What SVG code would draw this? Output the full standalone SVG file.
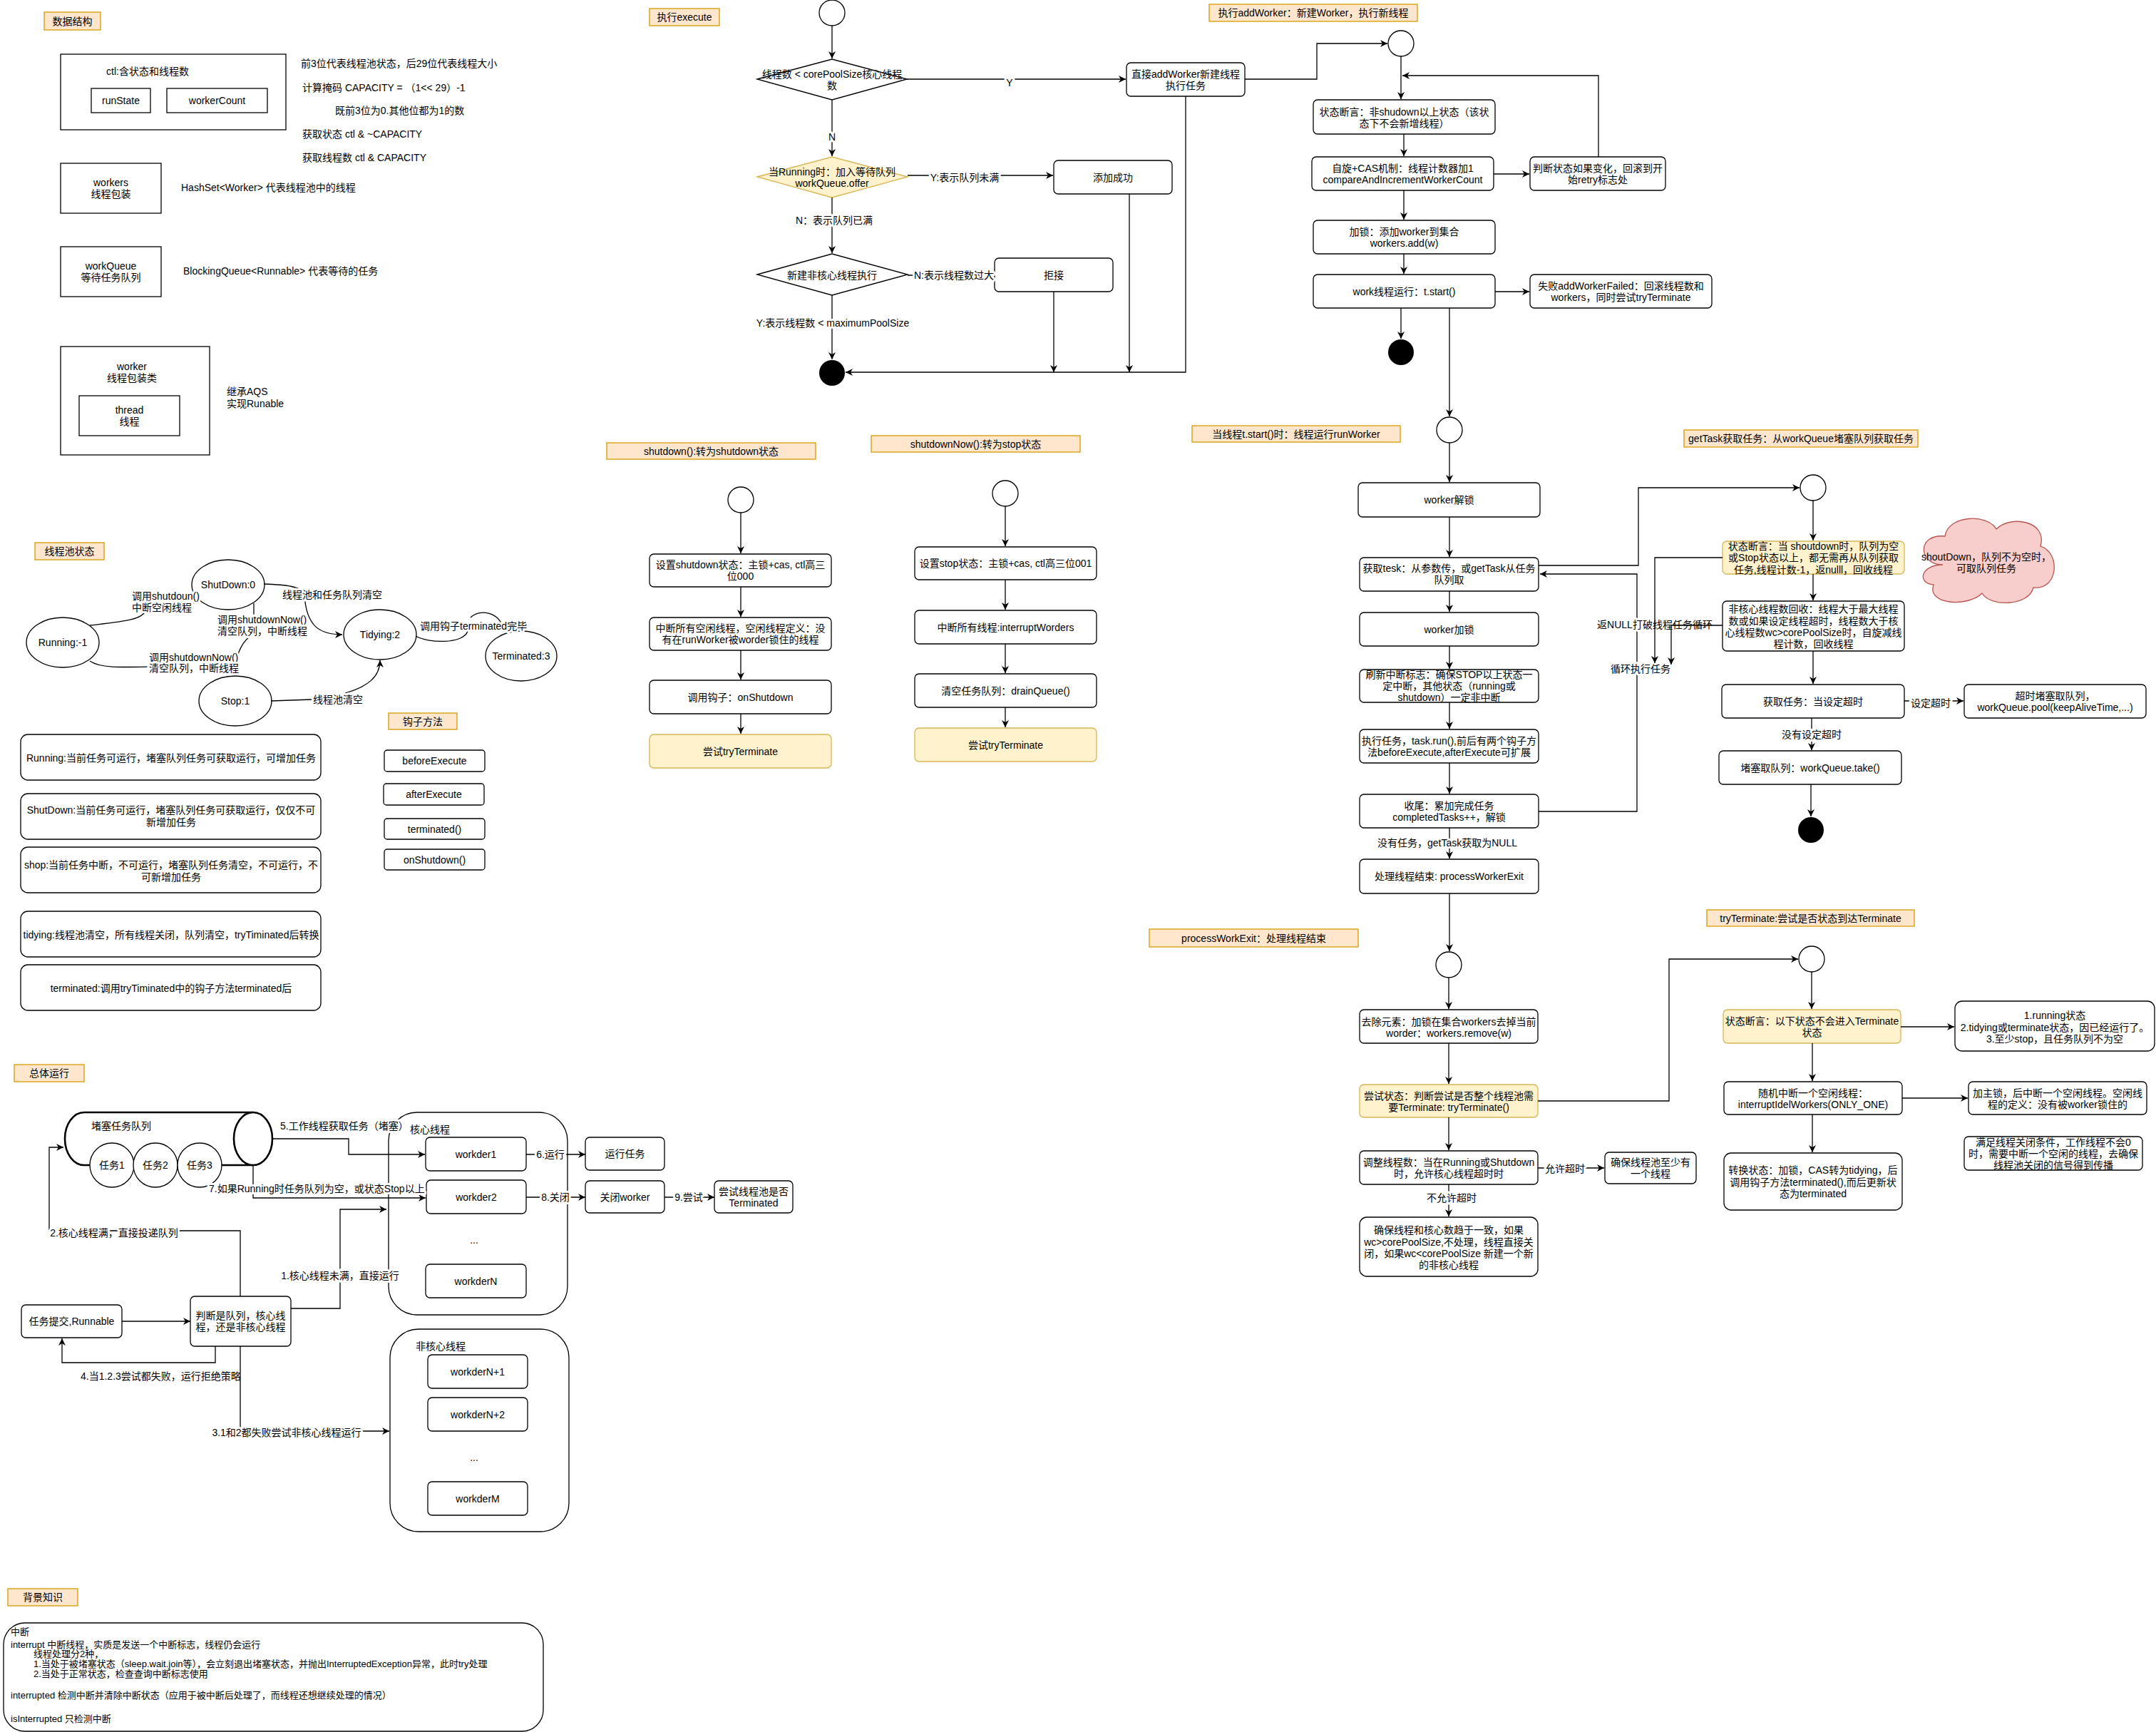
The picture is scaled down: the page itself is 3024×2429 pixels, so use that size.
<svg xmlns="http://www.w3.org/2000/svg" width="3024" height="2429" viewBox="0 0 3024 2429">
<style>
text{font-family:"Liberation Sans","Noto Sans CJK SC",sans-serif;font-size:14px;fill:#000;dominant-baseline:central}
.t{text-anchor:middle}
.s{text-anchor:start}
.b{fill:#fff;stroke:#000;stroke-width:1.3}
.lbl{fill:#ffe6cc;stroke:#d79b00;stroke-width:1.3}
.y{fill:#fff2cc;stroke:#d6b656;stroke-width:1.3}
.e{fill:none;stroke:#000;stroke-width:1.3}
.h{paint-order:stroke;stroke:#fff;stroke-width:6px;stroke-linejoin:round}
.bg text{font-size:13px}
</style>
<defs>
<marker id="a" viewBox="0 0 10 10" refX="10" refY="5" markerWidth="10" markerHeight="10" markerUnits="userSpaceOnUse" orient="auto"><path d="M0,0 L10,5 L0,10 L3,5 z" fill="#000"/></marker>
</defs>
<rect width="3024" height="2429" fill="#fff"/>

<!-- ===== 数据结构 ===== -->
<g id="lbl-data"><rect class="lbl" x="62" y="17" width="79" height="25"/><text class="t" x="101.5" y="29.5">数据结构</text></g>
<g id="ctl"><rect class="b" x="85" y="76" width="316" height="106"/><text class="t" x="207" y="100">ctl:含状态和线程数</text></g>
<g id="runState"><rect class="b" x="128" y="124" width="83" height="34"/><text class="t" x="169.5" y="141">runState</text></g>
<g id="workerCount"><rect class="b" x="234" y="124" width="141" height="34"/><text class="t" x="304.5" y="141">workerCount</text></g>
<g id="ctl-notes">
<text class="s" x="422" y="89">前3位代表线程池状态，后29位代表线程大小</text>
<text class="s" x="424" y="123">计算掩码 CAPACITY = （1&lt;&lt; 29）-1</text>
<text class="s" x="470" y="155">既前3位为0.其他位都为1的数</text>
<text class="s" x="424" y="188">获取状态 ctl &amp;  ~CAPACITY</text>
<text class="s" x="424" y="221">获取线程数 ctl &amp; CAPACITY</text>
</g>
<g id="workers"><rect class="b" x="85" y="229" width="141" height="70"/><text class="t" x="155.5" y="256">workers</text><text class="t" x="155.5" y="272">线程包装</text></g>
<text class="s" x="254" y="263">HashSet&lt;Worker&gt; 代表线程池中的线程</text>
<g id="workQueue"><rect class="b" x="85" y="346" width="141" height="70"/><text class="t" x="155.5" y="373">workQueue</text><text class="t" x="155.5" y="389">等待任务队列</text></g>
<text class="s" x="257" y="380">BlockingQueue&lt;Runnable&gt; 代表等待的任务</text>
<g id="worker"><rect class="b" x="85" y="486" width="209" height="152"/><text class="t" x="185" y="514">worker</text><text class="t" x="185" y="530">线程包装类</text></g>
<g id="thread"><rect class="b" x="111" y="555" width="141" height="56"/><text class="t" x="181.5" y="575">thread</text><text class="t" x="181.5" y="591">线程</text></g>
<text class="s" x="318" y="549">继承AQS</text>
<text class="s" x="318" y="566">实现Runable</text>

<!-- ===== 线程池状态 ===== -->
<g id="lbl-state"><rect class="lbl" x="49" y="761" width="97" height="24"/><text class="t" x="97.5" y="773">线程池状态</text></g>
<g id="st-running"><ellipse class="b" cx="88" cy="901" rx="51" ry="35"/><text class="t" x="88" y="901">Running:-1</text></g>
<g id="st-shutdown"><ellipse class="b" cx="320" cy="820" rx="51" ry="35"/><text class="t" x="320" y="820">ShutDown:0</text></g>
<g id="st-tidying"><ellipse class="b" cx="533" cy="890" rx="51" ry="35"/><text class="t" x="533" y="890">Tidying:2</text></g>
<g id="st-stop"><ellipse class="b" cx="330" cy="983" rx="51" ry="35"/><text class="t" x="330" y="983">Stop:1</text></g>
<g id="st-terminated"><ellipse class="b" cx="731" cy="920" rx="50" ry="35"/><text class="t" x="731" y="920">Terminated:3</text></g>

<g id="st-desc-running"><rect class="b" x="29" y="1030" width="421" height="64" rx="10"/><text class="t" x="240" y="1063">Running:当前任务可运行，堵塞队列任务可获取运行，可增加任务</text></g>
<g id="st-desc-shutdown"><rect class="b" x="29" y="1113" width="421" height="64" rx="10"/><text class="t" x="240" y="1136">ShutDown:当前任务可运行，堵塞队列任务可获取运行，仅仅不可</text><text class="t" x="240" y="1153">新增加任务</text></g>
<g id="st-desc-stop"><rect class="b" x="29" y="1188" width="421" height="64" rx="10"/><text class="t" x="240" y="1213">shop:当前任务中断，不可运行，堵塞队列任务清空，不可运行，不</text><text class="t" x="240" y="1230">可新增加任务</text></g>
<g id="st-desc-tidying"><rect class="b" x="29" y="1278" width="421" height="64" rx="10"/><text class="t" x="240" y="1311">tidying:线程池清空，所有线程关闭，队列清空，tryTiminated后转换</text></g>
<g id="st-desc-terminated"><rect class="b" x="29" y="1353" width="421" height="64" rx="10"/><text class="t" x="240" y="1386">terminated:调用tryTiminated中的钩子方法terminated后</text></g>

<g id="lbl-hook"><rect class="lbl" x="545" y="1000" width="96" height="23"/><text class="t" x="593" y="1011.5">钩子方法</text></g>
<g id="hook-before"><rect class="b" x="539" y="1052" width="141" height="30" rx="4"/><text class="t" x="609.5" y="1067">beforeExecute</text></g>
<g id="hook-after"><rect class="b" x="538" y="1099" width="141" height="30" rx="4"/><text class="t" x="608.5" y="1114">afterExecute</text></g>
<g id="hook-terminated"><rect class="b" x="539" y="1148" width="141" height="29" rx="4"/><text class="t" x="609.5" y="1162.5">terminated()</text></g>
<g id="hook-onshutdown"><rect class="b" x="539" y="1191" width="141" height="29" rx="4"/><text class="t" x="609.5" y="1205.5">onShutdown()</text></g>

<!-- ===== 总体运行 ===== -->
<g id="lbl-overall"><rect class="lbl" x="20" y="1493" width="98" height="24"/><text class="t" x="69" y="1505">总体运行</text></g>
<g id="queue">
<path d="M355,1560 L118,1560 A27,37 0 0 0 118,1634 L355,1634" fill="#fff" stroke="#000" stroke-width="2.6"/>
<ellipse cx="355" cy="1597" rx="27" ry="37" fill="#fff" stroke="#000" stroke-width="2.6"/>
<text class="s" x="128" y="1579">堵塞任务队列</text>
</g>
<g id="task1"><circle class="b" cx="157" cy="1634" r="31"/><text class="t" x="157" y="1634">任务1</text></g>
<g id="task2"><circle class="b" cx="218" cy="1634" r="31"/><text class="t" x="218" y="1634">任务2</text></g>
<g id="task3"><circle class="b" cx="280" cy="1634" r="31"/><text class="t" x="280" y="1634">任务3</text></g>
<g id="core"><rect class="b" x="545" y="1560" width="251" height="284" rx="40"/><text class="s" x="575" y="1584">核心线程</text><text class="t" x="665" y="1739">...</text></g>
<g id="w1"><rect class="b" x="597" y="1595" width="141" height="47" rx="6"/><text class="t" x="667.5" y="1618.5">workder1</text></g>
<g id="w2"><rect class="b" x="598" y="1655" width="140" height="47" rx="6"/><text class="t" x="668" y="1678.5">workder2</text></g>
<g id="wN"><rect class="b" x="597" y="1773" width="141" height="47" rx="6"/><text class="t" x="667.5" y="1796.5">workderN</text></g>
<g id="run-task"><rect class="b" x="821" y="1595" width="111" height="46" rx="6"/><text class="t" x="876.5" y="1618">运行任务</text></g>
<g id="close-worker"><rect class="b" x="821" y="1656" width="111" height="45" rx="6"/><text class="t" x="876.5" y="1678.5">关闭worker</text></g>
<g id="try-term"><rect class="b" x="1002" y="1656" width="110" height="45" rx="6"/><text class="t" x="1057" y="1671">尝试线程池是否</text><text class="t" x="1057" y="1687">Terminated</text></g>
<g id="submit"><rect class="b" x="30" y="1830" width="141" height="46" rx="6"/><text class="t" x="100.5" y="1853">任务提交,Runnable</text></g>
<g id="judge"><rect class="b" x="267" y="1818" width="141" height="70" rx="6"/><text class="t" x="337.5" y="1845">判断是队列，核心线</text><text class="t" x="337.5" y="1861">程，还是非核心线程</text></g>
<g id="noncore"><rect class="b" x="547" y="1864" width="251" height="284" rx="40"/><text class="s" x="583" y="1888">非核心线程</text><text class="t" x="665" y="2044">...</text></g>
<g id="wN1"><rect class="b" x="600" y="1900" width="140" height="47" rx="6"/><text class="t" x="670" y="1923.5">workderN+1</text></g>
<g id="wN2"><rect class="b" x="600" y="1960" width="140" height="47" rx="6"/><text class="t" x="670" y="1983.5">workderN+2</text></g>
<g id="wM"><rect class="b" x="600" y="2078" width="140" height="47" rx="6"/><text class="t" x="670" y="2101.5">workderM</text></g>

<!-- ===== 背景知识 ===== -->
<g id="lbl-bg"><rect class="lbl" x="11" y="2228" width="98" height="24"/><text class="t" x="60" y="2240">背景知识</text></g>
<g id="bg-box" class="bg">
<rect class="b" x="5" y="2276" width="757" height="152" rx="30"/>
<text class="s" x="15" y="2288">中断</text>
<text class="s" x="15" y="2306">interrupt 中断线程，实质是发送一个中断标志，线程仍会运行</text>
<text class="s" x="47" y="2319">线程处理分2种，</text>
<text class="s" x="47" y="2333">1.当处于被堵塞状态（sleep.wait.join等），会立刻退出堵塞状态，并抛出InterruptedException异常，此时try处理</text>
<text class="s" x="47" y="2347">2.当处于正常状态，检查查询中断标志使用</text>
<text class="s" x="15" y="2377">interrupted 检测中断并清除中断状态（应用于被中断后处理了，而线程还想继续处理的情况）</text>
<text class="s" x="15" y="2410">isInterrupted 只检测中断</text>
</g>

<!-- ===== 执行execute ===== -->
<g id="lbl-exec"><rect class="lbl" x="911" y="12" width="98" height="24"/><text class="t" x="960" y="24">执行execute</text></g>
<g id="ex-start"><circle class="b" cx="1167" cy="18" r="18"/></g>
<g id="ex-d1"><polygon class="b" points="1062,111 1167,83 1272,111 1167,140"/><text class="t" x="1167" y="104">线程数 &lt; corePoolSize核心线程</text><text class="t" x="1167" y="120">数</text></g>
<g id="ex-addworker"><rect class="b" x="1580" y="88" width="166" height="47" rx="6"/><text class="t" x="1663" y="104">直接addWorker新建线程</text><text class="t" x="1663" y="120">执行任务</text></g>
<g id="ex-d2"><polygon class="y" points="1062,248 1167,220 1273,248 1167,277"/><text class="t" x="1167" y="241">当Running时：加入等待队列</text><text class="t" x="1167" y="257">workQueue.offer</text></g>
<g id="ex-added"><rect class="b" x="1478" y="225" width="166" height="47" rx="6"/><text class="t" x="1561" y="248.5">添加成功</text></g>
<g id="ex-d3"><polygon class="b" points="1062,385 1167,356 1273,385 1167,414"/><text class="t" x="1167" y="386">新建非核心线程执行</text></g>
<g id="ex-reject"><rect class="b" x="1395" y="362" width="166" height="47" rx="6"/><text class="t" x="1478" y="385.5">拒接</text></g>
<g id="ex-end"><circle cx="1167" cy="523" r="18" fill="#000"/></g>

<!-- ===== addWorker ===== -->
<g id="lbl-add"><rect class="lbl" x="1696" y="6" width="292" height="24"/><text class="t" x="1842" y="18">执行addWorker：新建Worker，执行新线程</text></g>
<g id="aw-start"><circle class="b" cx="1965" cy="61" r="18"/></g>
<g id="aw-1"><rect class="b" x="1842" y="140" width="255" height="48" rx="6"/><text class="t" x="1969.5" y="157">状态断言：非shudown以上状态（该状</text><text class="t" x="1969.5" y="173">态下不会新增线程）</text></g>
<g id="aw-2"><rect class="b" x="1840" y="220" width="255" height="47" rx="6"/><text class="t" x="1967.5" y="236">自旋+CAS机制：线程计数器加1</text><text class="t" x="1967.5" y="252">compareAndIncrementWorkerCount</text></g>
<g id="aw-retry"><rect class="b" x="2146" y="220" width="190" height="47" rx="6"/><text class="t" x="2241" y="236">判断状态如果变化，回滚到开</text><text class="t" x="2241" y="252">始retry标志处</text></g>
<g id="aw-3"><rect class="b" x="1842" y="309" width="255" height="47" rx="6"/><text class="t" x="1969.5" y="325">加锁：添加worker到集合</text><text class="t" x="1969.5" y="341">workers.add(w)</text></g>
<g id="aw-4"><rect class="b" x="1842" y="385" width="255" height="47" rx="6"/><text class="t" x="1969.5" y="408.5">work线程运行：t.start()</text></g>
<g id="aw-fail"><rect class="b" x="2146" y="385" width="255" height="47" rx="6"/><text class="t" x="2273.5" y="401">失败addWorkerFailed：回滚线程数和</text><text class="t" x="2273.5" y="417">workers，同时尝试tryTerminate</text></g>
<g id="aw-end"><circle cx="1965" cy="494" r="18" fill="#000"/></g>

<!-- ===== shutdown ===== -->
<g id="lbl-sd"><rect class="lbl" x="851" y="621" width="293" height="23"/><text class="t" x="997.5" y="632.5">shutdown():转为shutdown状态</text></g>
<g id="sd-start"><circle class="b" cx="1039" cy="701" r="18"/></g>
<g id="sd-1"><rect class="b" x="911" y="777" width="255" height="46" rx="6"/><text class="t" x="1038.5" y="792">设置shutdown状态：主锁+cas, ctl高三</text><text class="t" x="1038.5" y="808">位000</text></g>
<g id="sd-2"><rect class="b" x="911" y="866" width="255" height="46" rx="6"/><text class="t" x="1038.5" y="881">中断所有空闲线程，空闲线程定义：没</text><text class="t" x="1038.5" y="897">有在runWorker被worder锁住的线程</text></g>
<g id="sd-3"><rect class="b" x="911" y="954" width="255" height="47" rx="6"/><text class="t" x="1038.5" y="977.5">调用钩子：onShutdown</text></g>
<g id="sd-4"><rect class="y" x="911" y="1030" width="255" height="47" rx="6"/><text class="t" x="1038.5" y="1053.5">尝试tryTerminate</text></g>

<!-- ===== shutdownNow ===== -->
<g id="lbl-sdn"><rect class="lbl" x="1222" y="611" width="293" height="23"/><text class="t" x="1368.5" y="622.5">shutdownNow():转为stop状态</text></g>
<g id="sdn-start"><circle class="b" cx="1410" cy="692" r="18"/></g>
<g id="sdn-1"><rect class="b" x="1283" y="767" width="255" height="46" rx="6"/><text class="t" x="1410.5" y="790">设置stop状态：主锁+cas, ctl高三位001</text></g>
<g id="sdn-2"><rect class="b" x="1283" y="856" width="255" height="47" rx="6"/><text class="t" x="1410.5" y="879.5">中断所有线程:interruptWorders</text></g>
<g id="sdn-3"><rect class="b" x="1283" y="945" width="255" height="47" rx="6"/><text class="t" x="1410.5" y="968.5">清空任务队列：drainQueue()</text></g>
<g id="sdn-4"><rect class="y" x="1283" y="1021" width="255" height="47" rx="6"/><text class="t" x="1410.5" y="1044.5">尝试tryTerminate</text></g>

<!-- ===== runWorker ===== -->
<g id="lbl-rw"><rect class="lbl" x="1672" y="597" width="292" height="23"/><text class="t" x="1818" y="608.5">当线程t.start()时：线程运行runWorker</text></g>
<g id="rw-start"><circle class="b" cx="2033" cy="603" r="18"/></g>
<g id="rw-unlock"><rect class="b" x="1905" y="677" width="255" height="48" rx="6"/><text class="t" x="2032.5" y="701">worker解锁</text></g>
<g id="rw-gettask"><rect class="b" x="1907" y="782" width="251" height="47" rx="6"/><text class="t" x="2032.5" y="797">获取tesk：从参数传，或getTask从任务</text><text class="t" x="2032.5" y="813">队列取</text></g>
<g id="rw-lock"><rect class="b" x="1907" y="859" width="251" height="47" rx="6"/><text class="t" x="2032.5" y="882.5">worker加锁</text></g>
<g id="rw-flush"><rect class="b" x="1907" y="939" width="251" height="46" rx="6"/><text class="t" x="2032.5" y="946">刷新中断标志：确保STOP以上状态一</text><text class="t" x="2032.5" y="962">定中断，其他状态（running或</text><text class="t" x="2032.5" y="978">shutdown）一定非中断</text></g>
<g id="rw-run"><rect class="b" x="1907" y="1023" width="251" height="47" rx="6"/><text class="t" x="2032.5" y="1039">执行任务，task.run(),前后有两个钩子方</text><text class="t" x="2032.5" y="1055">法beforeExecute,afterExecute可扩展</text></g>
<g id="rw-finish"><rect class="b" x="1907" y="1114" width="251" height="47" rx="6"/><text class="t" x="2032.5" y="1130">收尾：累加完成任务</text><text class="t" x="2032.5" y="1146">completedTasks++，解锁</text></g>
<g id="rw-exit"><rect class="b" x="1907" y="1205" width="251" height="48" rx="6"/><text class="t" x="2032.5" y="1229">处理线程结束: processWorkerExit</text></g>

<!-- ===== getTask ===== -->
<g id="lbl-gt"><rect class="lbl" x="2362" y="603" width="328" height="24"/><text class="t" x="2526" y="615">getTask获取任务：从workQueue堵塞队列获取任务</text></g>
<g id="gt-start"><circle class="b" cx="2543" cy="684" r="18"/></g>
<g id="gt-assert"><rect class="y" x="2416" y="759" width="255" height="46" rx="6"/><text class="t" x="2543.5" y="766">状态断言：当 shoutdown时，队列为空</text><text class="t" x="2543.5" y="782">或Stop状态以上，都无需再从队列获取</text><text class="t" x="2543.5" y="799">任务,线程计数-1，返nulll，回收线程</text></g>
<g id="gt-cloud"><path d="M2725,792 C2690,792 2688,748 2728,752 C2732,722 2788,720 2800,742 C2820,722 2872,730 2862,766 C2890,774 2888,828 2852,824 C2846,850 2792,852 2780,832 C2760,852 2702,848 2712,820 C2688,818 2694,792 2725,792 Z" fill="#f8cecc" stroke="#b85450" stroke-width="1.3"/><text class="t" x="2786" y="781">shoutDown，队列不为空时，</text><text class="t" x="2786" y="797">可取队列任务</text></g>
<g id="gt-noncore"><rect class="b" x="2416" y="843" width="255" height="70" rx="6"/><text class="t" x="2543.5" y="854">非核心线程数回收：线程大于最大线程</text><text class="t" x="2543.5" y="871">数或如果设定线程超时，线程数大于核</text><text class="t" x="2543.5" y="887">心线程数wc&gt;corePoolSize时，自旋减线</text><text class="t" x="2543.5" y="903">程计数，回收线程</text></g>
<g id="gt-get"><rect class="b" x="2415" y="960" width="256" height="47" rx="6"/><text class="t" x="2543" y="983.5">获取任务：当设定超时</text></g>
<g id="gt-poll"><rect class="b" x="2755" y="960" width="255" height="47" rx="6"/><text class="t" x="2882.5" y="976">超时堵塞取队列，</text><text class="t" x="2882.5" y="992">workQueue.pool(keepAliveTime,...)</text></g>
<g id="gt-take"><rect class="b" x="2411" y="1053" width="256" height="47" rx="6"/><text class="t" x="2539" y="1076.5">堵塞取队列：workQueue.take()</text></g>
<g id="gt-end"><circle cx="2540" cy="1164" r="18" fill="#000"/></g>

<!-- ===== processWorkExit ===== -->
<g id="lbl-pe"><rect class="lbl" x="1612" y="1303" width="293" height="25"/><text class="t" x="1758.5" y="1315.5">processWorkExit：处理线程结束</text></g>
<g id="pe-start"><circle class="b" cx="2032" cy="1353" r="18"/></g>
<g id="pe-remove"><rect class="b" x="1907" y="1416" width="250" height="47" rx="6"/><text class="t" x="2032" y="1433">去除元素：加锁在集合workers去掉当前</text><text class="t" x="2032" y="1449">worder：workers.remove(w)</text></g>
<g id="pe-try"><rect class="y" x="1907" y="1521" width="250" height="46" rx="6"/><text class="t" x="2032" y="1537">尝试状态：判断尝试是否整个线程池需</text><text class="t" x="2032" y="1553">要Terminate: tryTerminate()</text></g>
<g id="pe-adjust"><rect class="b" x="1907" y="1614" width="250" height="47" rx="6"/><text class="t" x="2032" y="1630">调整线程数：当在Running或Shutdown</text><text class="t" x="2032" y="1646">时，允许核心线程超时时</text></g>
<g id="pe-atleast"><rect class="b" x="2251" y="1616" width="128" height="44" rx="6"/><text class="t" x="2315" y="1630">确保线程池至少有</text><text class="t" x="2315" y="1646">一个线程</text></g>
<g id="pe-ensure"><rect class="b" x="1907" y="1707" width="250" height="83" rx="10"/><text class="t" x="2032" y="1725">确保线程和核心数趋于一致，如果</text><text class="t" x="2032" y="1742">wc&gt;corePoolSize,不处理，线程直接关</text><text class="t" x="2032" y="1758">闭，如果wc&lt;corePoolSize 新建一个新</text><text class="t" x="2032" y="1774">的非核心线程</text></g>

<!-- ===== tryTerminate ===== -->
<g id="lbl-tt"><rect class="lbl" x="2394" y="1276" width="291" height="23"/><text class="t" x="2539.5" y="1287.5">tryTerminate:尝试是否状态到达Terminate</text></g>
<g id="tt-start"><circle class="b" cx="2541" cy="1345" r="18"/></g>
<g id="tt-assert"><rect class="y" x="2417" y="1416" width="249" height="47" rx="6"/><text class="t" x="2541.5" y="1432">状态断言：以下状态不会进入Terminate</text><text class="t" x="2541.5" y="1448">状态</text></g>
<g id="tt-states"><rect class="b" x="2742" y="1404" width="280" height="70" rx="10"/><text class="t" x="2882" y="1424">1.running状态</text><text class="t" x="2882" y="1441">2.tidying或terminate状态，因已经运行了。</text><text class="t" x="2882" y="1457">3.至少stop，且任务队列不为空</text></g>
<g id="tt-interrupt"><rect class="b" x="2418" y="1517" width="250" height="46" rx="6"/><text class="t" x="2543" y="1533">随机中断一个空闲线程：</text><text class="t" x="2543" y="1549">interruptIdelWorkers(ONLY_ONE)</text></g>
<g id="tt-lock"><rect class="b" x="2761" y="1517" width="250" height="46" rx="6"/><text class="t" x="2886" y="1533">加主锁，后中断一个空闲线程。空闲线</text><text class="t" x="2886" y="1549">程的定义：没有被worker锁住的</text></g>
<g id="tt-transit"><rect class="b" x="2418" y="1617" width="250" height="80" rx="10"/><text class="t" x="2543" y="1641">转换状态：加锁，CAS转为tidying，后</text><text class="t" x="2543" y="1658">调用钩子方法terminated(),而后更新状</text><text class="t" x="2543" y="1674">态为terminated</text></g>
<g id="tt-note"><rect class="b" x="2755" y="1594" width="250" height="47" rx="6"/><text class="t" x="2880" y="1602">满足线程关闭条件，工作线程不会0</text><text class="t" x="2880" y="1618">时，需要中断一个空闲的线程，去确保</text><text class="t" x="2880" y="1634">线程池关闭的信号得到传播</text></g>

<!-- ===== connectors ===== -->
<g id="connectors">
<!-- state machine -->
<path class="e" d="M126,877 C170,872 200,870 205,855 C210,843 250,842 281,842" marker-end="url(#a)"/>
<text class="s h" x="185" y="836">调用shutdoun()</text>
<text class="s h" x="185" y="852">中断空闲线程</text>
<path class="e" d="M370,819 C400,820 425,822 427,835 C430,880 450,890 480,890" marker-end="url(#a)"/>
<text class="s h" x="396" y="834">线程池和任务队列清空</text>
<path class="e" d="M356,846 L356,862"/>
<path class="e" d="M350,893 C335,905 330,925 330,947" marker-end="url(#a)"/>
<text class="s h" x="305" y="869">调用shutdownNow()</text>
<text class="s h" x="305" y="885">清空队列，中断线程</text>
<path class="e" d="M126,927 C140,937 170,936 209,935"/>
<path class="e" d="M322,934 C327,937 330,941 330,947" marker-end="url(#a)"/>
<text class="s h" x="209" y="922">调用shutdownNow()</text>
<text class="s h" x="209" y="937">清空队列，中断线程</text>
<path class="e" d="M380,983 L437,981"/>
<path class="e" d="M484,972 C515,963 533,950 533,926" marker-end="url(#a)"/>
<text class="s h" x="439" y="981">线程池清空</text>
<path class="e" d="M583,892 C600,902 650,904 656,885"/>
<path class="e" d="M660,866 C672,854 700,857 706,882"/>
<text class="s h" x="589" y="878">调用钩子terminated完毕</text>

<!-- overall -->
<path class="e" d="M382,1597 L489,1597 L489,1619 L596,1619" marker-end="url(#a)"/>
<text class="s h" x="393" y="1579">5.工作线程获取任务（堵塞）</text>
<path class="e" d="M738,1619 L821,1619" marker-end="url(#a)"/>
<text class="t h" x="772" y="1619">6.运行</text>
<path class="e" d="M355,1634 L355,1680 L597,1680" marker-end="url(#a)"/>
<text class="s h" x="293" y="1667">7.如果Running时任务队列为空，或状态Stop以上</text>
<path class="e" d="M738,1679 L821,1679" marker-end="url(#a)"/>
<text class="t h" x="779" y="1679">8.关闭</text>
<path class="e" d="M932,1679 L1002,1679" marker-end="url(#a)"/>
<text class="t h" x="966" y="1679">9.尝试</text>
<path class="e" d="M171,1853 L267,1853" marker-end="url(#a)"/>
<path class="e" d="M337,1818 L337,1726 L69,1726 L69,1609 L89,1609" marker-end="url(#a)"/>
<text class="t h" x="160" y="1729">2.核心线程满，直接投递队列</text>
<path class="e" d="M408,1835 L477,1835 L477,1696 L542,1696" marker-end="url(#a)"/>
<text class="t h" x="477" y="1789">1.核心线程未满，直接运行</text>
<path class="e" d="M302,1888 L302,1911 L87,1911 L87,1877" marker-end="url(#a)"/>
<text class="s" x="113" y="1930">4.当1.2.3尝试都失败，运行拒绝策略</text>
<path class="e" d="M337,1888 L337,2007 L546,2007" marker-end="url(#a)"/>
<text class="t h" x="402" y="2009">3.1和2都失败尝试非核心线程运行</text>

<!-- execute -->
<path class="e" d="M1167,36 L1167,82" marker-end="url(#a)"/>
<path class="e" d="M1272,111 L1579,111" marker-end="url(#a)"/>
<text class="t h" x="1416" y="116">Y</text>
<path class="e" d="M1167,140 L1167,219" marker-end="url(#a)"/>
<text class="t h" x="1167" y="192">N</text>
<path class="e" d="M1273,246 L1477,246" marker-end="url(#a)"/>
<text class="t h" x="1353" y="249">Y:表示队列未满</text>
<path class="e" d="M1167,277 L1167,355" marker-end="url(#a)"/>
<text class="t h" x="1170" y="309">N：表示队列已满</text>
<path class="e" d="M1273,386 L1394,386" marker-end="url(#a)"/>
<text class="t h" x="1338" y="386">N:表示线程数过大</text>
<path class="e" d="M1167,414 L1167,504" marker-end="url(#a)"/>
<text class="t h" x="1168" y="453">Y:表示线程数 &lt; maximumPoolSize</text>
<path class="e" d="M1663,135 L1663,522 L1186,522" marker-end="url(#a)"/>
<path class="e" d="M1478,409 L1478,522" marker-end="url(#a)"/>
<path class="e" d="M1584,272 L1584,522" marker-end="url(#a)"/>

<!-- addWorker -->
<path class="e" d="M1746,111 L1847,111 L1847,61 L1946,61" marker-end="url(#a)"/>
<path class="e" d="M1965,79 L1965,139" marker-end="url(#a)"/>
<path class="e" d="M2242,220 L2242,106 L1967,106" marker-end="url(#a)"/>
<path class="e" d="M1969,188 L1969,219" marker-end="url(#a)"/>
<path class="e" d="M2095,244 L2145,244" marker-end="url(#a)"/>
<path class="e" d="M1969,267 L1969,308" marker-end="url(#a)"/>
<path class="e" d="M1969,356 L1969,384" marker-end="url(#a)"/>
<path class="e" d="M2097,409 L2145,409" marker-end="url(#a)"/>
<path class="e" d="M1965,432 L1965,475" marker-end="url(#a)"/>
<path class="e" d="M2033,432 L2033,584" marker-end="url(#a)"/>

<!-- shutdown -->
<path class="e" d="M1039,719 L1039,776" marker-end="url(#a)"/>
<path class="e" d="M1039,823 L1039,865" marker-end="url(#a)"/>
<path class="e" d="M1039,912 L1039,953" marker-end="url(#a)"/>
<path class="e" d="M1039,1001 L1039,1029" marker-end="url(#a)"/>
<!-- shutdownNow -->
<path class="e" d="M1410,710 L1410,766" marker-end="url(#a)"/>
<path class="e" d="M1410,813 L1410,855" marker-end="url(#a)"/>
<path class="e" d="M1410,903 L1410,944" marker-end="url(#a)"/>
<path class="e" d="M1410,992 L1410,1020" marker-end="url(#a)"/>

<!-- runWorker -->
<path class="e" d="M2033,621 L2033,676" marker-end="url(#a)"/>
<path class="e" d="M2033,725 L2033,781" marker-end="url(#a)"/>
<path class="e" d="M2033,829 L2033,858" marker-end="url(#a)"/>
<path class="e" d="M2033,906 L2033,938" marker-end="url(#a)"/>
<path class="e" d="M2033,985 L2033,1022" marker-end="url(#a)"/>
<path class="e" d="M2033,1070 L2033,1113" marker-end="url(#a)"/>
<path class="e" d="M2033,1161 L2033,1204" marker-end="url(#a)"/>
<text class="t h" x="2030" y="1182">没有任务，getTask获取为NULL</text>
<path class="e" d="M2033,1253 L2033,1334" marker-end="url(#a)"/>
<path class="e" d="M2158,793 L2298,793 L2298,684 L2524,684" marker-end="url(#a)"/>
<path class="e" d="M2158,1138 L2296,1138 L2296,805 L2160,805" marker-end="url(#a)"/>
<text class="t h" x="2321" y="876">返NULL打破线程任务循环</text>
<text class="t h" x="2301" y="938">循环执行任务</text>
<path class="e" d="M2416,782 L2321,782 L2321,930" marker-end="url(#a)"/>
<path class="e" d="M2416,877 L2344,877 L2344,932" marker-end="url(#a)"/>

<!-- getTask -->
<path class="e" d="M2543,702 L2543,758" marker-end="url(#a)"/>
<path class="e" d="M2543,805 L2543,842" marker-end="url(#a)"/>
<path class="e" d="M2543,913 L2543,959" marker-end="url(#a)"/>
<path class="e" d="M2671,983 L2754,983" marker-end="url(#a)"/>
<text class="t h" x="2708" y="986">设定超时</text>
<path class="e" d="M2541,1007 L2541,1052" marker-end="url(#a)"/>
<text class="t h" x="2541" y="1030">没有设定超时</text>
<path class="e" d="M2540,1100 L2540,1145" marker-end="url(#a)"/>

<!-- processWorkExit -->
<path class="e" d="M2032,1371 L2032,1415" marker-end="url(#a)"/>
<path class="e" d="M2032,1463 L2032,1520" marker-end="url(#a)"/>
<path class="e" d="M2157,1544 L2341,1544 L2341,1345 L2522,1345" marker-end="url(#a)"/>
<path class="e" d="M2032,1567 L2032,1613" marker-end="url(#a)"/>
<path class="e" d="M2157,1638 L2250,1638" marker-end="url(#a)"/>
<text class="t h" x="2195" y="1639">允许超时</text>
<path class="e" d="M2032,1661 L2032,1706" marker-end="url(#a)"/>
<text class="t h" x="2036" y="1680">不允许超时</text>

<!-- tryTerminate -->
<path class="e" d="M2541,1363 L2541,1415" marker-end="url(#a)"/>
<path class="e" d="M2666,1440 L2741,1440" marker-end="url(#a)"/>
<path class="e" d="M2542,1463 L2542,1516" marker-end="url(#a)"/>
<path class="e" d="M2668,1540 L2760,1540" marker-end="url(#a)"/>
<path class="e" d="M2542,1563 L2542,1616" marker-end="url(#a)"/>
</g>
</svg>
